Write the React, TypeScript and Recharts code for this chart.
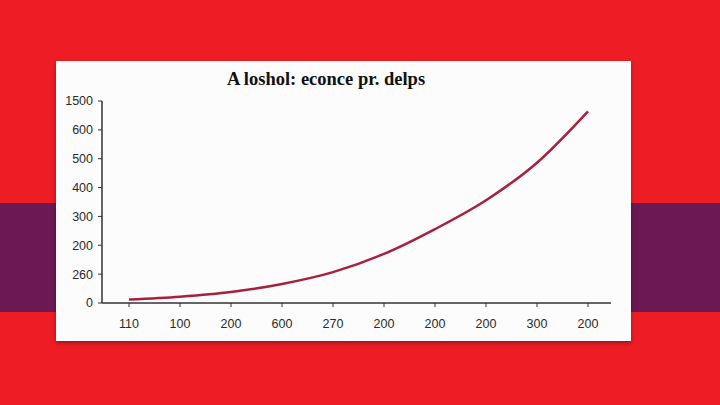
import { LineChart, Line, XAxis, YAxis } from 'recharts';

const xLabels = ['110', '100', '200', '600', '270', '200', '200', '200', '300', '200'];
const values = [12, 22, 38, 66, 107, 170, 256, 356, 486, 664];
const yTicks = [0, 100, 200, 300, 400, 500, 600, 700];
const yLabels = ['0', '260', '200', '300', '400', '500', '600', '1500'];

const data = values.map((v, i) => ({ idx: i, value: v }));

const tickStyle = { fontSize: 12.5, fill: '#2a2a2a', fontFamily: '"Liberation Sans", Arial, sans-serif' };

export default function App() {
  return (
    <div
      style={{
        position: 'absolute',
        left: 0,
        top: 0,
        width: 720,
        height: 405,
        overflow: 'hidden',
        background: '#ee1d25',
      }}
    >
      {/* purple band behind the card */}
      <div
        style={{
          position: 'absolute',
          left: 0,
          top: 203,
          width: 720,
          height: 109,
          background: '#6c1855',
        }}
      />
      <div
        style={{
          position: 'absolute',
          left: 56,
          top: 61,
          width: 575,
          height: 280,
          background: '#fcfcfc',
          boxShadow: '0 2px 4px rgba(0,0,0,0.35)',
        }}
      >
        <div
          style={{
            position: 'absolute',
            left: 0,
            top: 8,
            width: 540,
            textAlign: 'center',
            fontFamily: '"Liberation Serif", "DejaVu Serif", serif',
            fontWeight: 'bold',
            fontSize: 18.5,
            lineHeight: '20px',
            color: '#111',
          }}
        >
          A loshol: econce pr. delps
        </div>
        <LineChart
          width={575}
          height={280}
          data={data}
          margin={{ top: 40, right: 20, bottom: 8, left: 0 }}
        >
          <XAxis
            dataKey="idx"
            tickFormatter={(_v: any, i: number) => xLabels[i]}
            interval={0}
            padding={{ left: 27, right: 23 }}
            tick={tickStyle}
            tickSize={4}
            tickMargin={12}
            height={30}
            stroke="#333"
            axisLine={{ stroke: '#333', strokeWidth: 1.5 }}
          />
          <YAxis
            domain={[0, 700]}
            ticks={yTicks}
            tickFormatter={(_v: any, i: number) => yLabels[i]}
            interval={0}
            tick={tickStyle}
            tickSize={4}
            tickMargin={5}
            width={46}
            stroke="#333"
            axisLine={{ stroke: '#333', strokeWidth: 1.5 }}
          />
          <Line
            type="monotone"
            dataKey="value"
            stroke="#a8203d"
            strokeWidth={2.5}
            dot={false}
            isAnimationActive={false}
          />
        </LineChart>
      </div>
    </div>
  );
}
